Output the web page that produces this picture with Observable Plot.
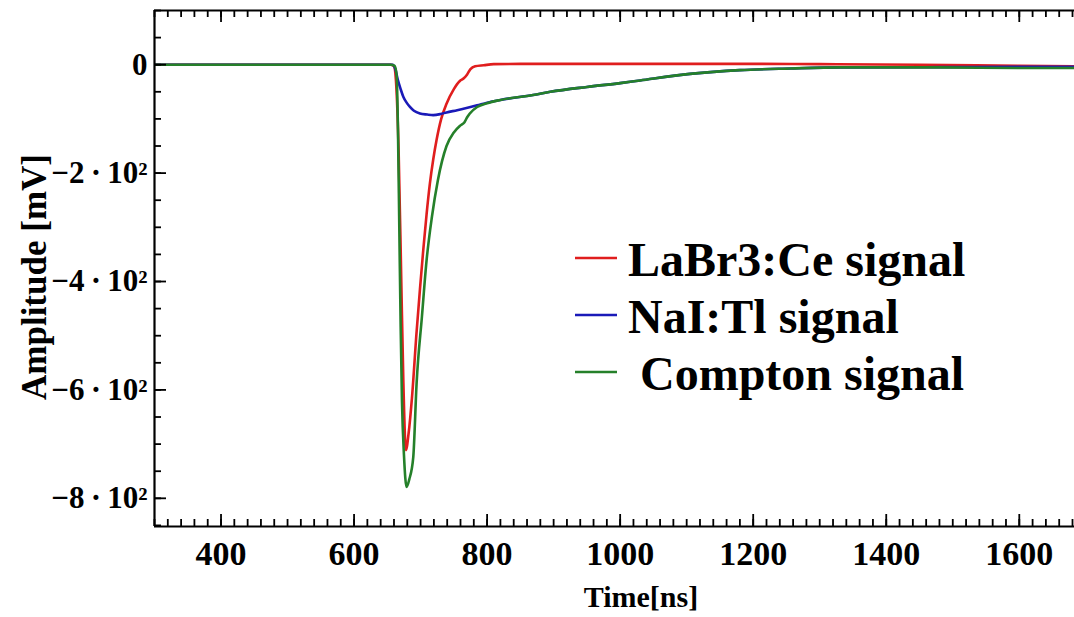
<!DOCTYPE html>
<html>
<head>
<meta charset="utf-8">
<script src="https://cdn.jsdelivr.net/npm/d3@7"></script>
<script src="https://cdn.jsdelivr.net/npm/@observablehq/plot@0.6"></script>
<style>
  body { margin: 0; background: #fff; }
  #chart { position: relative; width: 1074px; height: 617px; }
</style>
</head>
<body>
<div id="chart"></div>
<script>
// ---- data ----
const seriesNames = ["LaBr3:Ce signal", "NaI:Tl signal", "\u00a0Compton signal"];
const seriesColors = ["#e01e1e", "#1a1ab8", "#25802a"];

const labrTime = [300, 655, 660, 663, 667, 671, 674, 678, 682, 687, 694, 699, 704, 709, 714, 719, 724, 731, 739, 750, 759, 765, 770, 775, 782, 795, 810, 850, 1000, 1200, 1300, 1450, 1600, 1690];
const labrAmp  = [0, 0, -3, -30, -160, -400, -580, -711, -680, -615, -493, -415, -342, -276, -219, -175, -139, -100, -72, -45, -30, -25, -18, -8, -3, -1, 1, 1.5, 1.5, 1.5, 1, 0, -2, -3];

const naiTime = [300, 658, 662, 666, 670, 674, 679, 684, 690, 699, 710, 719, 730, 739, 755, 769, 785, 800, 820, 869, 895, 950, 1000, 1030, 1105, 1180, 1256, 1331, 1480, 1600, 1690];
const naiAmp  = [0, 0, -8, -29, -45, -59, -70, -78, -85, -90, -92, -93, -91, -88, -84, -80, -75, -70, -65, -56, -50, -41, -34, -29, -17, -10, -7, -5, -4.5, -4, -4];

const comptonTime = [300, 655, 661, 664, 666, 668, 670, 672, 675, 679, 683, 689, 694, 702, 709, 717, 726, 739, 750, 760, 766, 770, 774, 785, 800, 820, 869, 895, 950, 1000, 1030, 1105, 1180, 1256, 1331, 1480, 1600, 1690];
const comptonAmp  = [0, 0, -2, -20, -120, -300, -480, -620, -720, -779, -765, -724, -588, -465, -361, -281, -213, -150, -125, -112, -106, -97, -90, -78, -71, -65, -56, -50, -41, -34, -29, -17, -10, -7, -5, -5, -6, -6];

const xTicksMajor = [400, 600, 800, 1000, 1200, 1400, 1600];
const xTickLabels = ["400", "600", "800", "1000", "1200", "1400", "1600"];
const yTicksMajor = [-800, -600, -400, -200, 0];
const yTickLabels = ["\u22128\u2009\u00b7\u200910\u00b2", "\u22126\u2009\u00b7\u200910\u00b2", "\u22124\u2009\u00b7\u200910\u00b2", "\u22122\u2009\u00b7\u200910\u00b2", "0"];
const xDomain = [300, 1683];
const yDomain = [-852, 100];
const xMinorStep = 20;
const yMinorStep = 50;
const xTitle = "Time[ns]";
const yTitle = "Amplitude [mV]";

// ---- build ----
const W = 1074, H = 617, mL = 154, mR = 0, mT = 10, mB = 91;
const plotW = W - mL - mR, plotH = H - mT - mB;
const font = "'Liberation Serif', 'Times New Roman', serif";

const seriesData = [
  labrTime.map((t, i) => ({t, v: labrAmp[i], s: seriesNames[0]})),
  naiTime.map((t, i) => ({t, v: naiAmp[i], s: seriesNames[1]})),
  comptonTime.map((t, i) => ({t, v: comptonAmp[i], s: seriesNames[2]}))
];

const xMinor = d3.range(xDomain[0], xDomain[1] + 0.001, xMinorStep);
const yMinor = d3.range(-850, yDomain[1] + 0.001, yMinorStep);

const chart = Plot.plot({
  width: W, height: H,
  marginLeft: mL, marginRight: mR, marginTop: mT, marginBottom: mB,
  style: {fontFamily: font, fontWeight: "bold", color: "#000", background: "#fff", overflow: "visible"},
  x: {domain: xDomain},
  y: {domain: yDomain},
  marks: [
    ...seriesData.map((d, i) => Plot.line(d, {x: "t", y: "v", stroke: seriesColors[i], strokeWidth: 2.6, clip: true, curve: "monotone-x"})),
    // inward ticks, bottom
    Plot.tickX(xMinor, {x: d => d, insetTop: plotH - 7, stroke: "#000", strokeWidth: 1.8}),
    Plot.tickX(xTicksMajor, {x: d => d, insetTop: plotH - 12, stroke: "#000", strokeWidth: 1.8}),
    // inward ticks, top
    Plot.tickX(xMinor, {x: d => d, insetBottom: plotH - 7, stroke: "#000", strokeWidth: 1.8}),
    Plot.tickX(xTicksMajor, {x: d => d, insetBottom: plotH - 12, stroke: "#000", strokeWidth: 1.8}),
    // inward ticks, left
    Plot.tickY(yMinor, {y: d => d, insetRight: plotW - 7, stroke: "#000", strokeWidth: 1.8}),
    Plot.tickY(yTicksMajor, {y: d => d, insetRight: plotW - 12, stroke: "#000", strokeWidth: 1.8}),
    // frame (left, bottom, top)
    Plot.ruleX([xDomain[0]], {stroke: "#000", strokeWidth: 2.2}),
    Plot.ruleY(yDomain, {stroke: "#000", strokeWidth: 2.2}),
    Plot.axisX(xTicksMajor, {tickSize: 0, tickPadding: 14, fontSize: 34, label: null,
      tickFormat: d => xTickLabels[xTicksMajor.indexOf(d)]}),
    Plot.axisY(yTicksMajor, {tickSize: 0, tickPadding: 7, fontSize: 31, label: null,
      tickFormat: d => yTickLabels[yTicksMajor.indexOf(d)]})
  ]
});

document.getElementById("chart").appendChild(chart);

const svg = d3.select(chart);
// axis titles
svg.append("text")
  .attr("x", 641).attr("y", 607)
  .attr("text-anchor", "middle")
  .attr("font-size", 30).attr("font-weight", "bold").attr("font-family", font)
  .attr("fill", "#000")
  .text(xTitle);
svg.append("text")
  .attr("transform", "translate(46,277) rotate(-90)")
  .attr("text-anchor", "middle")
  .attr("font-size", 35).attr("font-weight", "bold").attr("font-family", font)
  .attr("fill", "#000")
  .text(yTitle);

// legend
const lg = svg.append("g").attr("font-family", font).attr("font-weight", "bold").attr("font-size", 48)
  .attr("text-anchor", "start");
seriesNames.forEach((name, i) => {
  const yLine = 258 + i * 57;
  lg.append("line").attr("x1", 575).attr("x2", 617).attr("y1", yLine).attr("y2", yLine)
    .attr("stroke", seriesColors[i]).attr("stroke-width", 2.6);
  lg.append("text").attr("x", 628).attr("y", yLine + 18).attr("fill", "#000")
    .attr("text-anchor", "start")
    .text(name);
});
</script>
</body>
</html>
